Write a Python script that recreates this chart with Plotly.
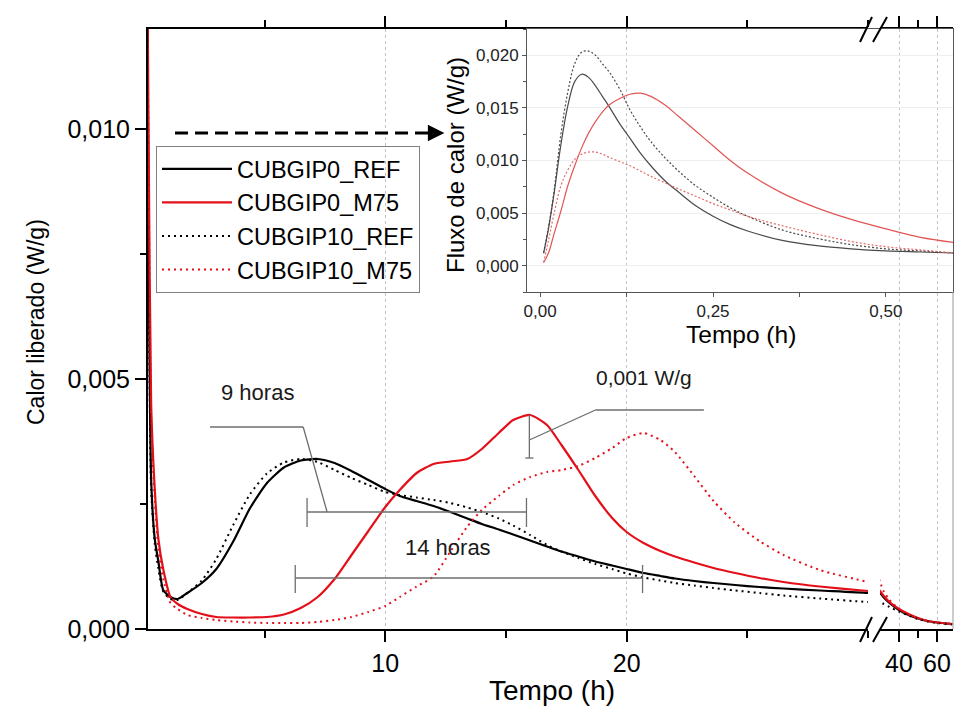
import plotly.graph_objects as go

# ---------------- data (main plot) ----------------
tempo_h = [0.1, 0.2, 0.3, 0.45, 0.6, 0.8, 1.1, 1.4, 1.8, 2.4, 3.0, 3.7, 4.4, 5.1, 5.8,
           6.5, 7.2, 7.9, 8.6, 9.3, 10.0, 10.6, 11.3, 12.0, 12.7, 13.4, 14.0, 14.7,
           15.3, 16.0, 16.7, 17.3, 18.0, 18.7, 19.4, 20.0, 20.7, 21.4, 22.0, 22.8,
           23.6, 24.5, 25.5, 26.5, 28.0, 30.0, 32.0, 35.0, 40.0, 45.0, 50.0, 55.0,
           60.0, 68.0]

cubgip0_ref = [0.016, 0.0075, 0.0030, 0.0018, 0.00135, 0.00078, 0.00064, 0.0006, 0.00072,
               0.00092, 0.0012, 0.00175, 0.00242, 0.00292, 0.00323, 0.00337, 0.0034,
               0.00332, 0.00316, 0.00298, 0.0028, 0.00266, 0.00256, 0.00246, 0.00234,
               0.00221, 0.0021, 0.00199, 0.00189, 0.00177, 0.00165, 0.00155, 0.00145,
               0.00135, 0.00127, 0.0012, 0.00112, 0.00106, 0.00101, 0.00096, 0.00092,
               0.00088, 0.00084, 0.00081, 0.00077, 0.00072, 0.00063, 0.00052, 0.00038,
               0.00028, 0.00021, 0.00016, 0.00013, 0.0001]

cubgip0_m75 = [0.016, 0.0095, 0.0045, 0.0028, 0.0018, 0.0012, 0.00064, 0.0005, 0.0004,
               0.0003, 0.00024, 0.00023, 0.00023, 0.00024, 0.00029, 0.00042, 0.00064,
               0.001, 0.00148, 0.00196, 0.00244, 0.00278, 0.00312, 0.0033, 0.00335,
               0.0034, 0.0036, 0.00392, 0.00418, 0.00428, 0.00408, 0.00368, 0.00318,
               0.00266, 0.00222, 0.00194, 0.00172, 0.00156, 0.00145, 0.00133, 0.00122,
               0.00112, 0.00102, 0.00094, 0.00085, 0.00076, 0.00066, 0.00054, 0.0004,
               0.0003, 0.00022, 0.00016, 0.00013, 0.0001]

cubgip10_ref = [0.016, 0.0072, 0.0028, 0.0017, 0.0012, 0.00075, 0.0006, 0.00058, 0.00072,
                0.00097, 0.0014, 0.00208, 0.0027, 0.00311, 0.00333, 0.0034, 0.00334,
                0.00318, 0.00302, 0.00288, 0.00274, 0.00268, 0.00263, 0.00258, 0.00252,
                0.00243, 0.00234, 0.00221, 0.00207, 0.00188, 0.00168, 0.00155, 0.00142,
                0.0013, 0.0012, 0.00111, 0.00103, 0.00097, 0.00092, 0.00087, 0.00082,
                0.00077, 0.00072, 0.00067, 0.00061, 0.00054, 0.0005, 0.00044, 0.00035,
                0.00027, 0.0002, 0.00015, 0.00012, 0.00009]

cubgip10_m75 = [0.016, 0.009, 0.0042, 0.0026, 0.0016, 0.001, 0.00052, 0.0004, 0.00028,
                0.00022, 0.00018, 0.00015, 0.00013, 0.00012, 0.00012, 0.00012, 0.00014,
                0.00018, 0.00024, 0.00034, 0.00046, 0.00064, 0.00085, 0.00105, 0.00155,
                0.00205, 0.00238, 0.00266, 0.00288, 0.00304, 0.00314, 0.00318, 0.00326,
                0.00342, 0.00362, 0.00382, 0.00392, 0.00378, 0.00354, 0.00306, 0.00256,
                0.00212, 0.00176, 0.00148, 0.00118, 0.00094, 0.00075, 0.00058, 0.0004,
                0.00029, 0.00021, 0.00016, 0.00013, 0.0001]

# ---------------- data (inset) ----------------
tempo_inset = [0.005, 0.012, 0.02, 0.03, 0.04, 0.05, 0.06, 0.07, 0.08, 0.09, 0.1, 0.115,
               0.13, 0.145, 0.16, 0.18, 0.2, 0.225, 0.25, 0.275, 0.3, 0.35, 0.4, 0.45,
               0.5, 0.55, 0.6]
inset_0_ref = [0.0012, 0.0035, 0.0068, 0.0115, 0.0152, 0.0175, 0.0182, 0.0179, 0.0171,
               0.0161, 0.0151, 0.0135, 0.0121, 0.0107, 0.0095, 0.0081, 0.0070, 0.0057,
               0.0047, 0.0039, 0.0033, 0.0024, 0.0019, 0.0016, 0.0014, 0.0013, 0.0012]
inset_10_ref = [0.0012, 0.0036, 0.007, 0.0125, 0.0165, 0.0192, 0.0203, 0.0204, 0.0200,
                0.0192, 0.0184, 0.0168, 0.0148, 0.0132, 0.0118, 0.0103, 0.0090, 0.0076,
                0.0065, 0.0055, 0.0047, 0.0034, 0.0026, 0.002, 0.0016, 0.0014, 0.0012]
inset_0_m75 = [0.0003, 0.0012, 0.0030, 0.0052, 0.0076, 0.0095, 0.0112, 0.0126, 0.0137,
               0.0146, 0.0153, 0.0159, 0.0163, 0.0164, 0.0161, 0.0153, 0.0142, 0.0128,
               0.0114, 0.0100, 0.0088, 0.0069, 0.0055, 0.0044, 0.0035, 0.0027, 0.0022]
inset_10_m75 = [0.0003, 0.0024, 0.0049, 0.0076, 0.0091, 0.0101, 0.0106, 0.0108, 0.0108,
                0.0106, 0.0103, 0.0099, 0.0095, 0.0090, 0.0085, 0.0079, 0.0073, 0.0066,
                0.0059, 0.0053, 0.0047, 0.0038, 0.0030, 0.0023, 0.0018, 0.0015, 0.0012]

series_names = ["CUBGIP0_REF", "CUBGIP0_M75", "CUBGIP10_REF", "CUBGIP10_M75"]

# ---------------- styles ----------------
RED = "#e3101a"
FONT = "Arial, 'Liberation Sans', sans-serif"
main_styles = [
    dict(color="black", width=2.2, dash="solid", shape="spline", smoothing=0.6),
    dict(color=RED, width=2.2, dash="solid", shape="spline", smoothing=0.6),
    dict(color="black", width=2.0, dash="2px,4px", shape="spline", smoothing=0.6),
    dict(color=RED, width=2.0, dash="2px,4px", shape="spline", smoothing=0.6),
]
inset_styles = [
    dict(color="#4a4a4a", width=1.2, dash="solid", shape="spline"),
    dict(color="#e25555", width=1.2, dash="solid", shape="spline"),
    dict(color="#4a4a4a", width=1.2, dash="2px,2px", shape="spline"),
    dict(color="#e56a6a", width=1.2, dash="2px,2px", shape="spline"),
]
main_series = [cubgip0_ref, cubgip0_m75, cubgip10_ref, cubgip10_m75]
inset_series = [inset_0_ref, inset_0_m75, inset_10_ref, inset_10_m75]

fig = go.Figure()
for name, ys, st in zip(series_names, main_series, main_styles):
    fig.add_trace(go.Scatter(x=tempo_h, y=ys, mode="lines", name=name,
                             line=st, xaxis="x", yaxis="y", showlegend=True))
    fig.add_trace(go.Scatter(x=tempo_h, y=ys, mode="lines", name=name, line=st,
                             xaxis="x2", yaxis="y", showlegend=False))
for name, ys, st in zip(series_names, inset_series, inset_styles):
    fig.add_trace(go.Scatter(x=tempo_inset, y=ys, mode="lines", name=name, line=st,
                             xaxis="x3", yaxis="y3", showlegend=False))

# ---------------- layout ----------------
W, H = 954, 714
L, R, T, B = 148, 1, 29, 85
pw, ph = W - L - R, H - T - B


def px_x(p):
    return (p - L) / pw


def px_y(p):
    return (H - B - p) / ph


d1_end = px_x(868)
d2_start = px_x(880)

axis_common = dict(showline=True, linecolor="black", linewidth=2, ticks="outside",
                   tickcolor="black", tickwidth=2, ticklen=11, zeroline=False,
                   automargin=False,
                   tickfont=dict(family=FONT, size=25, color="black"))

fig.update_layout(
    width=W, height=H,
    margin=dict(l=L, r=R, t=T, b=B, autoexpand=False),
    paper_bgcolor="white", plot_bgcolor="rgba(0,0,0,0)",
    separators=",.",
    font=dict(family=FONT, color="black"),
    showlegend=True,
    legend=dict(x=px_x(156), y=px_y(146), xanchor="left", yanchor="top",
                bgcolor="rgba(0,0,0,0)", bordercolor="#808080", borderwidth=1,
                font=dict(family=FONT, size=23.5, color="black"),
                itemwidth=70, tracegroupgap=0, entrywidth=212),
    xaxis=dict(domain=[0, d1_end], range=[0.17, 30], anchor="y",
               tickmode="array", tickvals=[10, 20], mirror="ticks",
               showgrid=True, gridcolor="#c4c4c4", griddash="dot", gridwidth=1,
               minor=dict(tickmode="linear", tick0=0, dtick=5, ticks="outside",
                          ticklen=7, tickwidth=2, tickcolor="black", showgrid=False),
               **axis_common),
    xaxis2=dict(domain=[d2_start, 1], range=[30, 68.4], anchor="y",
                tickmode="array", tickvals=[40, 60], mirror="ticks",
                showgrid=True, gridcolor="#c4c4c4", griddash="dot", gridwidth=1,
                minor=dict(tickmode="array", tickvals=[50], ticks="outside",
                           ticklen=7, tickwidth=2, tickcolor="black", showgrid=False),
                **axis_common),
    yaxis=dict(domain=[0, 1], range=[0, 0.012], anchor="x",
               tickmode="array", tickvals=[0, 0.005, 0.010], tickformat=".3f",
               showgrid=False, mirror=False,
               minor=dict(tickmode="linear", tick0=0, dtick=0.0025, ticks="outside",
                          ticklen=6, tickwidth=2, tickcolor="black", showgrid=False),
               **axis_common),
    xaxis3=dict(domain=[px_x(527), 1], range=[-0.019, 0.597], anchor="y3",
                tickmode="array", tickvals=[0, 0.25, 0.5], tickformat=".2f",
                showline=True, linecolor="#555555", linewidth=1, mirror=True,
                ticks="outside", ticklen=4, tickcolor="#555555", tickwidth=1,
                showgrid=False, zeroline=False, automargin=False,
                minor=dict(tickmode="linear", tick0=0, dtick=0.125, ticks="outside",
                           ticklen=4, tickcolor="#555555", showgrid=False),
                tickfont=dict(family=FONT, size=17, color="#222222")),
    yaxis3=dict(domain=[px_y(292), 1], range=[-0.0025, 0.0225], anchor="x3",
                tickmode="array", tickvals=[0, 0.005, 0.010, 0.015, 0.020],
                tickformat=".3f", automargin=False,
                showline=True, linecolor="#555555", linewidth=1, mirror=True,
                ticks="outside", ticklen=4, tickcolor="#555555", tickwidth=1,
                showgrid=True, gridcolor="#efefef", gridwidth=1, zeroline=False,
                minor=dict(tickmode="linear", tick0=0, dtick=0.0025, ticks="outside",
                           ticklen=3, tickcolor="#555555", showgrid=False),
                tickfont=dict(family=FONT, size=17, color="#222222")),
)

# ---------------- axis titles ----------------
fig.add_annotation(text="Calor liberado (W/g)", xref="paper", yref="paper",
                   x=px_x(36), y=px_y(322), textangle=-90, showarrow=False,
                   xanchor="center", yanchor="middle",
                   font=dict(family=FONT, size=23, color="black"))
fig.add_annotation(text="Tempo (h)", xref="paper", yref="paper",
                   x=px_x(552), y=px_y(690), showarrow=False,
                   xanchor="center", yanchor="middle",
                   font=dict(family=FONT, size=28, color="black"))
fig.add_annotation(text="Fluxo de calor (W/g)", xref="paper", yref="paper",
                   x=px_x(455), y=px_y(165), textangle=-90, showarrow=False,
                   xanchor="center", yanchor="middle",
                   font=dict(family=FONT, size=24, color="black"))
fig.add_annotation(text="Tempo (h)", xref="paper", yref="paper",
                   x=px_x(741), y=px_y(334), showarrow=False,
                   xanchor="center", yanchor="middle",
                   font=dict(family=FONT, size=24.5, color="black"))

# ---------------- text annotations ----------------
ann_font = dict(family=FONT, size=22, color="#1a1a1a")
fig.add_annotation(text="9 horas", x=4.69, y=0.00474, xref="x", yref="y",
                   showarrow=False, font=ann_font)
fig.add_annotation(text="14 horas", x=12.6, y=0.00164, xref="x", yref="y",
                   showarrow=False, font=ann_font)
fig.add_annotation(text="0,001 W/g", x=20.7, y=0.00504, xref="x", yref="y",
                   showarrow=False, font=dict(family=FONT, size=21, color="#1a1a1a"))

# ---------------- bracket / leader lines ----------------
GRAY = dict(color="#6e6e6e", width=1.3)


def seg(x0, y0, x1, y1, line=GRAY, xref="x", yref="y"):
    fig.add_shape(type="line", x0=x0, y0=y0, x1=x1, y1=y1, xref=xref, yref=yref,
                  line=line, layer="above")


# 9 horas
seg(2.74, 0.00404, 6.6, 0.00404)
seg(6.6, 0.00404, 7.59, 0.00234)
seg(6.76, 0.00234, 15.85, 0.00234)
seg(6.76, 0.00204, 6.76, 0.00262)
seg(15.85, 0.00204, 15.85, 0.00262)
# 14 horas
seg(6.27, 0.00102, 20.66, 0.00102)
seg(6.27, 0.00072, 6.27, 0.00128)
seg(20.66, 0.00072, 20.66, 0.00128)
# 0,001 W/g
seg(15.97, 0.00428, 15.97, 0.00342)
seg(15.8, 0.00342, 16.14, 0.00342)
seg(15.97, 0.00378, 18.71, 0.00438)
seg(18.71, 0.00438, 23.2, 0.00438)

# dashed arrow toward inset
seg(1.29, 0.00992, 12.0, 0.00992, line=dict(color="black", width=3, dash="13px,7px"))
fig.add_annotation(x=12.45, y=0.00992, xref="x", yref="y", ax=-16, ay=0,
                   axref="pixel", ayref="pixel", text="", showarrow=True,
                   arrowhead=2, arrowsize=1.1, arrowwidth=3, arrowcolor="black")

# right border of main frame
seg(1, 0, 1, px_y(292), line=dict(color="#9a9a9a", width=1), xref="paper", yref="paper")

# axis break marks (//) on bottom and top axes
brk = dict(color="black", width=2)
for (a, b) in [(860, 872), (873, 887)]:
    seg(px_x(a), px_y(642), px_x(b), px_y(617), line=brk, xref="paper", yref="paper")
    seg(px_x(a), px_y(42), px_x(b), px_y(17), line=brk, xref="paper", yref="paper")

fig.write_html("out.html",
               config={"displayModeBar": False},
               post_script="document.body.style.margin='0';"
                           "document.body.style.padding='0';")
